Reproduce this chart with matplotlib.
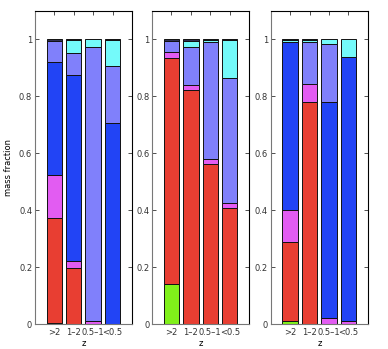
import numpy as np
import matplotlib
matplotlib.use('Agg')
import matplotlib.pyplot as plt

# redshift bins
zbins = ['>2', '1\u20132', '0.5\u20131', '<0.5']

# mass fractions per component, one list per panel (bars: >2, 1-2, 0.5-1, <0.5)
green_1 = [0.005, 0.0, 0.0, 0.0]
red_1 = [0.367, 0.197, 0.0, 0.0]
magenta_1 = [0.153, 0.025, 0.010, 0.0]
blue_1 = [0.395, 0.653, 0.0, 0.705]
lpurple_1 = [0.075, 0.078, 0.965, 0.203]
cyan_1 = [0.0, 0.045, 0.025, 0.090]
dark_1 = [0.005, 0.002, 0.0, 0.002]

green_2 = [0.140, 0.0, 0.0, 0.0]
red_2 = [0.795, 0.822, 0.563, 0.408]
magenta_2 = [0.020, 0.018, 0.017, 0.016]
blue_2 = [0.0, 0.0, 0.0, 0.0]
lpurple_2 = [0.040, 0.132, 0.410, 0.441]
cyan_2 = [0.0, 0.023, 0.008, 0.133]
dark_2 = [0.005, 0.005, 0.002, 0.002]

green_3 = [0.010, 0.0, 0.0, 0.0]
red_3 = [0.277, 0.780, 0.0, 0.0]
magenta_3 = [0.113, 0.062, 0.022, 0.010]
blue_3 = [0.590, 0.0, 0.758, 0.927]
lpurple_3 = [0.0, 0.148, 0.203, 0.0]
cyan_3 = [0.007, 0.007, 0.017, 0.063]
dark_3 = [0.003, 0.003, 0.0, 0.0]

colors = ['#80f01a', '#e83e32', '#e25cf2', '#2244f5', '#8080fb', '#74fafa', '#303050']

panels = [
    [green_1, red_1, magenta_1, blue_1, lpurple_1, cyan_1, dark_1],
    [green_2, red_2, magenta_2, blue_2, lpurple_2, cyan_2, dark_2],
    [green_3, red_3, magenta_3, blue_3, lpurple_3, cyan_3, dark_3],
]

fig = plt.figure(figsize=(3.88, 3.49), dpi=100)
lefts = [0.090, 0.392, 0.698]

x = np.arange(1, len(zbins) + 1)
for i, comps in enumerate(panels):
    ax = fig.add_axes([lefts[i], 0.0716, 0.250, 0.897])
    bottom = np.zeros(len(zbins))
    for vals, c in zip(comps, colors):
        vals = np.array(vals)
        for j in range(len(zbins)):
            if vals[j] <= 0:
                continue
            ax.bar(x[j], vals[j], width=0.8, bottom=bottom[j], color=c,
                   edgecolor='#111111', linewidth=0.7)
        bottom += vals
    ax.set_xlim(0, 5)
    ax.set_ylim(0, 1.1)
    ax.set_xticks(x)
    ax.set_xticklabels(zbins, fontsize=6)
    ax.set_yticks([0, 0.2, 0.4, 0.6, 0.8, 1.0])
    ax.set_yticklabels(['0', '0.2', '0.4', '0.6', '0.8', '1'], fontsize=6)
    ax.tick_params(direction='in', top=True, right=True, length=3,
                   width=0.6, pad=2, colors='#333333')
    ax.tick_params(axis='x', bottom=False, pad=3)
    ax.set_xlabel('z', fontsize=6, labelpad=1)
    for s in ['left', 'bottom']:
        ax.spines[s].set_color('#777777')
    for s in ['top', 'right']:
        ax.spines[s].set_color('black')
    if i == 0:
        ax.set_ylabel('mass fraction', fontsize=6, labelpad=4)

fig.savefig('out.png', dpi=100)
